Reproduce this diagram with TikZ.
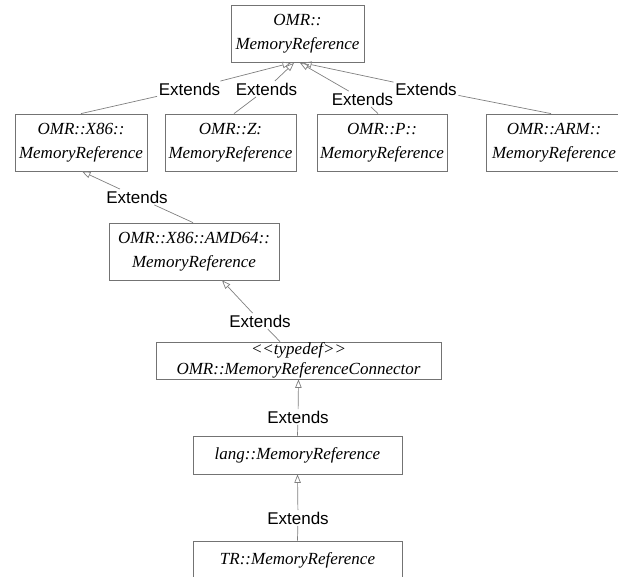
\documentclass[tikz,border=0pt]{standalone}
\usepackage{fontspec}
\setmainfont{Liberation Serif}
\setsansfont{Liberation Sans}
\usetikzlibrary{arrows.meta,positioning}

\begin{document}
\begin{tikzpicture}[
        x=1pt, y=-1pt,
        cls/.style={draw=gray!90!black, line width=0.8pt, align=center, inner sep=0pt, minimum height=57pt, font=\fontsize{17}{24}\selectfont\itshape},
        lbl/.style={inner sep=1.5pt, font=\fontsize{17}{20}\selectfont\sffamily},
        ext/.style={draw=gray, line width=0.7pt, -{Triangle[open, length=8.5pt, width=6.5pt]}}
    ]
        \useasboundingbox (0,0) rectangle (618,577);

        \node[cls, minimum width=133pt] (omr) at (297.5,34) {OMR::\\MemoryReference};

        \node[cls, minimum width=132pt] (x86) at (81,142.5) {OMR::X86::\\MemoryReference};
        \node[cls, minimum width=131pt] (z) at (230.5,142.5) {OMR::Z:\\MemoryReference};
        \node[cls, minimum width=130pt] (p) at (382,142.5) {OMR::P::\\MemoryReference};
        \node[cls, minimum width=136pt] (arm) at (554,142.5) {OMR::ARM::\\MemoryReference};

        \node[cls, minimum width=170pt] (amd64) at (194,251.5) {OMR::X86::AMD64::\\MemoryReference};
        \node[cls, minimum width=285pt, minimum height=37pt] (tdef) at (298.5,360.5) {<{}<typedef>{}>\\[-4pt]OMR::MemoryReferenceConnector};
        \node[cls, minimum width=209pt, minimum height=38pt] (lang) at (297.5,455) {lang::MemoryReference};
        \node[cls, minimum width=209pt, minimum height=38pt] (tr) at (297.5,560) {TR::MemoryReference};

        % labels on the edges
        \node[lbl] (l1) at (189.5,89) {Extends};
        \node[lbl] (l2) at (266.5,89) {Extends};
        \node[lbl] (l3) at (362.5,99) {Extends};
        \node[lbl] (l4) at (426,89) {Extends};
        \node[lbl] (l5) at (137,197) {Extends};
        \node[lbl] (l6) at (260,321) {Extends};
        \node[lbl] (l7) at (298,417) {Extends};
        \node[lbl] (l8) at (298,518) {Extends};

        \draw[ext] (x86.north) -- (l1) -- ([xshift=-6.5pt]omr.south);
        \draw[ext] ([xshift=3.5pt]z.north) -- (l2) -- ([xshift=-3.5pt]omr.south);
        \draw[ext] ([xshift=-4pt]p.north) -- (l3) -- ([xshift=2.5pt]omr.south);
        \draw[ext] ([xshift=-3pt]arm.north) -- (l4) -- ([xshift=5.5pt]omr.south);
        \draw[ext] ([xshift=-1pt]amd64.north) -- (l5) -- ([xshift=1pt]x86.south);
        \draw[ext] ([xshift=-18.5pt]tdef.north) -- (l6) -- ([xshift=28pt]amd64.south);
        \draw[ext] (lang.north) -- (l7) -- (tdef.south);
        \draw[ext] (tr.north) -- (l8) -- (lang.south);

    \end{tikzpicture}
\end{document}
